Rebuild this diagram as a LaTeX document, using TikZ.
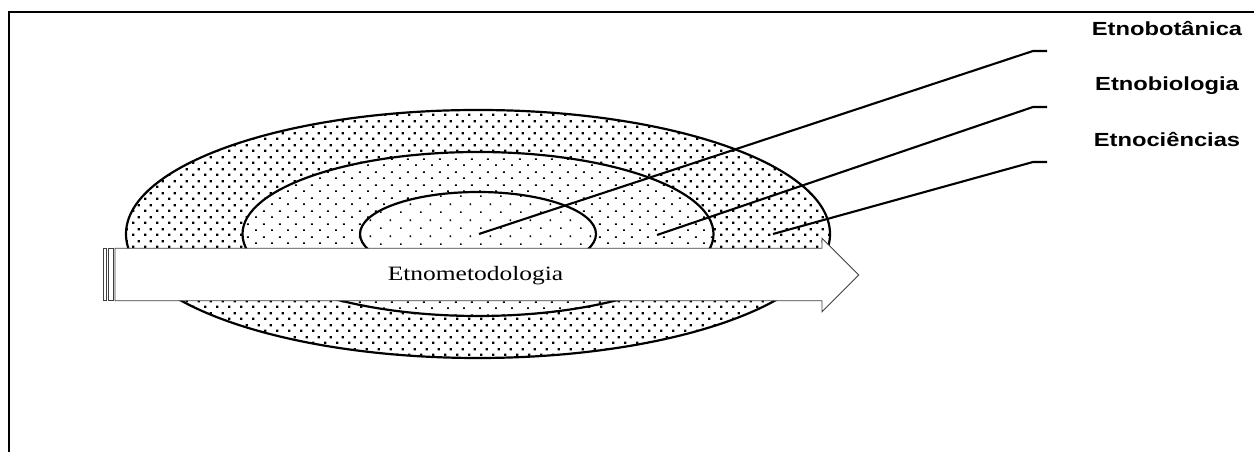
\documentclass[tikz,border=0pt]{standalone}
\usepackage{fontspec}
\usepackage{graphicx}
\setmainfont{Liberation Serif}
\setsansfont{Liberation Sans}
\usetikzlibrary{patterns}
% dot fills, staggered rows
\pgfdeclarepatternformonly{coarsedots}{\pgfpointorigin}{\pgfqpoint{6.83pt}{6.83pt}}{\pgfqpoint{6.83pt}{6.83pt}}{
\pgfpathrectangle{\pgfqpoint{0pt}{0pt}}{\pgfqpoint{1.4pt}{1.4pt}}
\pgfpathrectangle{\pgfqpoint{3.41pt}{3.41pt}}{\pgfqpoint{1.4pt}{1.4pt}}
\pgfusepath{fill}
}
\pgfdeclarepatternformonly{finedots}{\pgfpointorigin}{\pgfqpoint{9.1pt}{7.4pt}}{\pgfqpoint{9.1pt}{7.4pt}}{
\pgfpathrectangle{\pgfqpoint{0pt}{0pt}}{\pgfqpoint{1pt}{1pt}}
\pgfpathrectangle{\pgfqpoint{4.55pt}{3.7pt}}{\pgfqpoint{1pt}{1pt}}
\pgfusepath{fill}
}
\pgfdeclarepatternformonly{sparsedots}{\pgfpointorigin}{\pgfqpoint{11.4pt}{9.1pt}}{\pgfqpoint{11.4pt}{9.1pt}}{
\pgfpathrectangle{\pgfqpoint{0pt}{0pt}}{\pgfqpoint{0.95pt}{0.95pt}}
\pgfpathrectangle{\pgfqpoint{5.7pt}{4.55pt}}{\pgfqpoint{0.95pt}{0.95pt}}
\pgfusepath{fill}
}
\newcommand{\ring}[3]{
\draw[line width=1.25pt,preaction={fill=white},pattern=#3] (c0) ellipse [x radius=#1,y radius=#2];
}
\newcommand{\leader}[1]{
\draw[line width=1.2pt] (s#1) -- (k#1) -- (e#1);
}
\newcommand{\wide}[1]{\scalebox{1.25}[1]{#1}}

\begin{document}
\begin{tikzpicture}[x=0.02cm,y=0.02cm,
    lbl/.style={anchor=base,inner sep=0pt,font=\fontsize{10.8}{12}\selectfont\sffamily\bfseries},
    shaft/.style={line width=0.5pt,draw=black!75,fill=white}]
    \useasboundingbox (0,0) rectangle (1254,452);
    % frame
    \draw[line width=1.1pt] (9,-5) |- (1260,440);
    % rings
    \coordinate (c0) at (478,218);
    \ring{352}{124}{coarsedots}
    \ring{235.5}{82}{finedots}
    \ring{118}{42}{sparsedots}
    % leaders
    \coordinate (s1) at (479,218);
    \coordinate (k1) at (1033,401);
    \coordinate (e1) at (1047,401);
    \coordinate (s2) at (657,217);
    \coordinate (k2) at (1033,345);
    \coordinate (e2) at (1047,345);
    \coordinate (s3) at (773,218);
    \coordinate (k3) at (1033,290);
    \coordinate (e3) at (1047,290);
    \leader{1}
    \leader{2}
    \leader{3}
    \node[lbl] (bot) at (1167,416) {\wide{Etnobot\^anica}};
    \node[lbl] (bio) at (1167,361) {\wide{Etnobiologia}};
    \node[lbl] (cie) at (1167,305.3) {\wide{Etnoci\^encias}};
    % arrow
    \draw[shaft] (103.7,151.3) rectangle (106,203.7);
    \draw[shaft] (108.3,151.3) rectangle (113.3,203.7);
    \draw[shaft] (115,203.7) -- (822,203.7) -- (822,213.7) -- (858.7,177)
        -- (822,140.3) -- (822,151.3) -- (115,151.3) -- cycle;
    \node[anchor=base,inner sep=0pt,font=\fontsize{11.6}{13}\selectfont] (meto) at (475.5,171) {\wide{Etnometodologia}};
\end{tikzpicture}
\end{document}
